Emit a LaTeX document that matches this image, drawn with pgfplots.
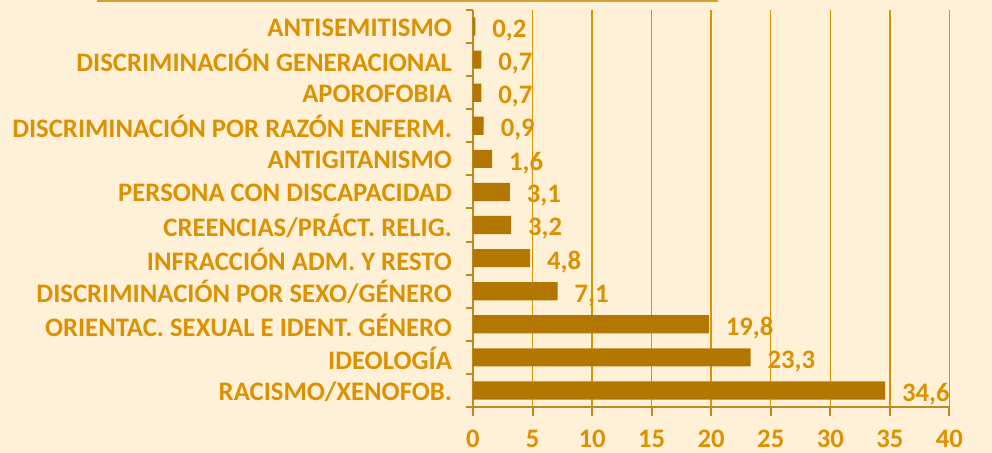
\documentclass[border=0pt]{standalone}
\usepackage{fontspec}
\setmainfont{Carlito}
\usepackage{pgfplots}
\pgfplotsset{compat=1.18}

\definecolor{bgcol}{HTML}{FFF0D8}
\definecolor{barcol}{HTML}{B37700}
\definecolor{txtcol}{HTML}{DC9200}
\definecolor{gridcol}{HTML}{DA9400}
\definecolor{axcol}{HTML}{C08A20}
\definecolor{topcol}{HTML}{D4A030}

\begin{document}
\begin{tikzpicture}
% fondo
\fill[bgcol] (-236.5bp,-23bp) rectangle (259.5bp,203.5bp);
\draw[topcol, line width=1bp] (-188bp,202.75bp) -- (122.5bp,202.75bp);
\begin{axis}[
  at={(0,0)}, anchor=south west,
  scale only axis,
  width=238.2bp, height=198.5bp,
  xbar, bar width=0.55,
  xmin=0, xmax=40,
  ymin=-0.5, ymax=11.5,
  xtick={0,5,...,40},
  ytick={0,...,11},
  yticklabels={RACISMO/XENOFOB.,IDEOLOGÍA,ORIENTAC. SEXUAL E IDENT. GÉNERO,DISCRIMINACIÓN POR SEXO/GÉNERO,INFRACCIÓN ADM. Y RESTO,CREENCIAS/PRÁCT. RELIG.,PERSONA CON DISCAPACIDAD,ANTIGITANISMO,DISCRIMINACIÓN POR RAZÓN ENFERM.,APOROFOBIA,DISCRIMINACIÓN GENERACIONAL,ANTISEMITISMO},
  minor ytick={-0.5,0.5,...,11.5},
  axis lines=left,
  axis line style={-, draw=axcol, line width=1bp},
  tick align=outside,
  tick pos=left,
  major tick length=4.5bp,
  minor tick length=3.5bp,
  major y tick style={draw=none},
  minor y tick style={draw=axcol, line width=1bp},
  major x tick style={draw=axcol, line width=1bp},
  xmajorgrids,
  major grid style={draw=gridcol, line width=0.75bp},
  ticklabel style={font=\fontsize{13.4}{15}\selectfont\bfseries, text=txtcol},
  yticklabel style={xshift=-2.5bp, yshift=-0.5bp},
  xticklabel style={yshift=-3.5bp},
  /pgf/number format/assume math mode=true,
  nodes near coords={\pgfmathprintnumber[fixed, fixed zerofill, precision=1, use comma]{\pgfplotspointmeta}},
  every node near coord/.append style={font=\fontsize{13.4}{15}\selectfont\bfseries, text=txtcol, anchor=west, xshift=5bp, yshift=-2bp},
]
\addplot[fill=barcol, draw=none] coordinates {
  (34.6,0) (23.3,1) (19.8,2) (7.1,3) (4.8,4) (3.2,5) (3.1,6)
  (1.6,7) (0.9,8) (0.7,9) (0.7,10) (0.2,11)
};
\end{axis}
\pgfresetboundingbox
\path[use as bounding box] (-236.5bp,-23bp) rectangle (259.5bp,203.5bp);
\end{tikzpicture}
\end{document}
